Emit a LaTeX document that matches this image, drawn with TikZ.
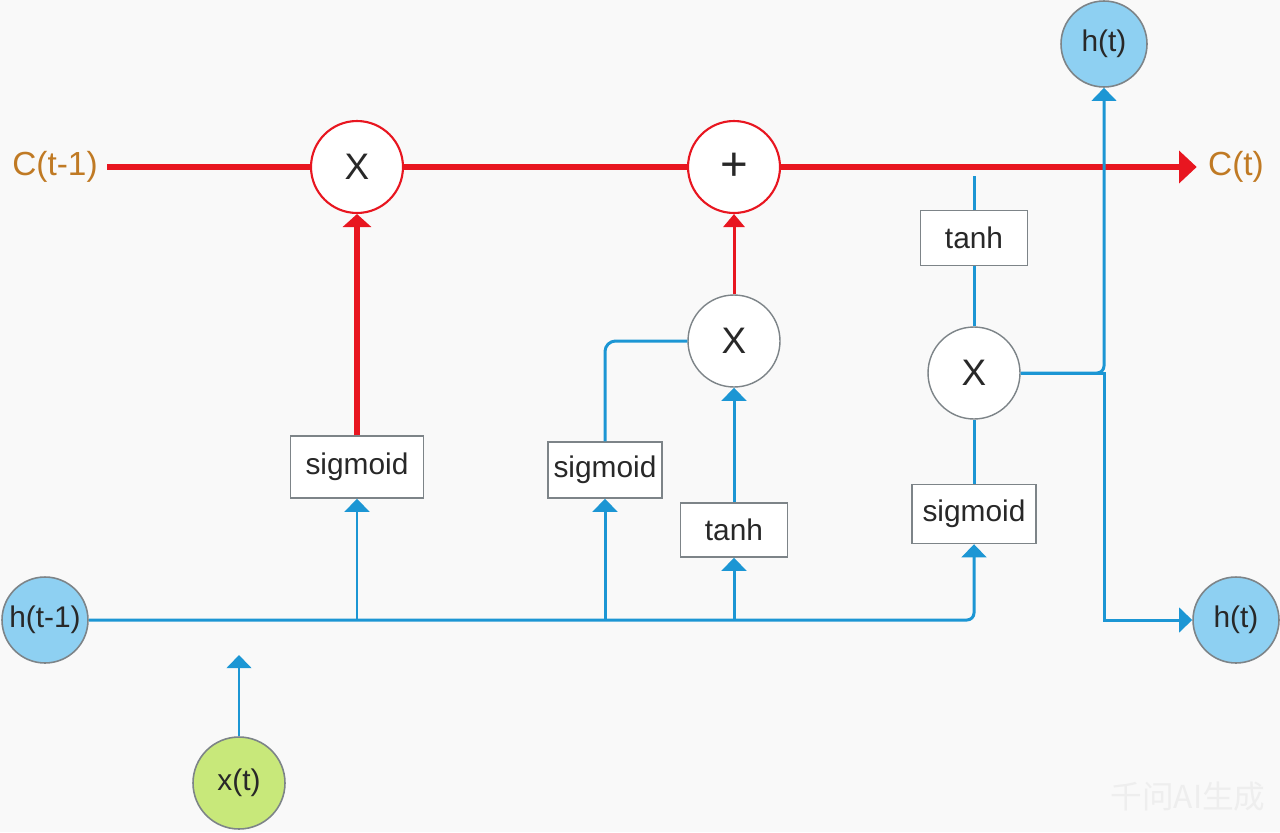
\documentclass[tikz,border=0pt]{standalone}
\usepackage{fontspec}
\setmainfont{Liberation Sans}
\newfontfamily\cjkfont{Noto Sans CJK SC}
\usepackage{tikz}
\usetikzlibrary{arrows.meta, calc, positioning}
\definecolor{cellred}{RGB}{232,22,32}
\definecolor{cellblue}{RGB}{28,150,212}
\definecolor{cellorange}{RGB}{192,122,36}
\definecolor{hfill}{RGB}{142,208,242}
\definecolor{xfill}{RGB}{200,232,122}
\definecolor{edgegray}{RGB}{125,132,136}
\definecolor{txtgray}{RGB}{40,40,40}
\definecolor{bggray}{RGB}{249,249,249}
\definecolor{markgray}{RGB}{238,238,238}
\tikzset{
	redline/.style={draw=cellred, line width=2.9pt},
	redarrow/.style={draw=cellred, line width=1.7pt, -{Triangle[width=12pt,length=7.4pt]}},
	redthick/.style={draw=cellred, line width=3.8pt, -{Triangle[width=16pt,length=7.4pt]}},
	blueline/.style={draw=cellblue, line width=1.7pt},
	bluearrow/.style={blueline, -{Triangle[width=14pt,length=7.5pt]}},
	gate/.style={draw=edgegray, line width=0.8pt, fill=white, inner sep=0pt, text=txtgray, font=\fontsize{17}{20}\selectfont},
	opred/.style={circle, draw=cellred, line width=1.2pt, fill=white, minimum size=1.84cm, inner sep=0pt, text=txtgray, font=\fontsize{21}{24}\selectfont},
	opgray/.style={opred, draw=edgegray, line width=0.8pt},
	hstate/.style={circle, draw=edgegray, line width=0.9pt, fill=hfill, minimum size=1.72cm, inner sep=0pt, text=txtgray, font=\fontsize{17}{20}\selectfont},
	celllabel/.style={text=cellorange, font=\fontsize{19}{22}\selectfont}
}
\begin{document}
\begin{tikzpicture}[x=0.02cm, y=-0.02cm]
	\fill[bggray] (0,0) rectangle (1280,832);
	\useasboundingbox (0,0) rectangle (1280,832);
	\node[celllabel] (cprev) at (55,167) {C(t-1)};
	\node[celllabel] (cnext) at (1236,167) {C(t)};
	\node[opred] (mul1) at (357,167) {X};
	\node[opred, font=\fontsize{27}{30}\selectfont] (add1) at (734,167) {+};
	\node[opgray] (mul2) at (734,341) {X};
	\node[opgray] (mul3) at (974,373) {X};
	\node[gate, minimum width=2.66cm, minimum height=1.24cm] (sig1) at (357,467) {sigmoid};
	\node[gate, minimum width=2.28cm, minimum height=1.12cm] (sig2) at (605,470) {sigmoid};
	\node[gate, minimum width=2.14cm, minimum height=1.08cm] (tanh2) at (734,530) {tanh};
	\node[gate, minimum width=2.14cm, minimum height=1.1cm] (tanh3) at (974,238) {tanh};
	\node[gate, minimum width=2.48cm, minimum height=1.18cm] (sig3) at (974,514) {sigmoid};
	\node[hstate] (hprev) at (45,620) {h(t-1)};
	\node[hstate] (htop) at (1104,44) {h(t)};
	\node[hstate] (hright) at (1236,620) {h(t)};
	\node[hstate, fill=xfill, minimum size=1.84cm] (xt) at (239,783) {x(t)};
	\node[text=markgray, font=\cjkfont\fontsize{18}{20}\selectfont] (mark) at (1188,797) {千问AI生成};
	\coordinate (tanhin) at (974,176);
	\coordinate (xin) at (239,655);
	\draw[redline, shorten <=2pt] (cprev) -- (mul1);
	\draw[redline] (mul1) -- (add1);
	\draw[redline, -{Triangle[width=18pt,length=10pt]}, shorten >=3pt] (add1) -- (cnext);
	\draw[redthick] (sig1) -- (mul1);
	\draw[redarrow] (mul2) -- (add1);
	\draw[bluearrow, rounded corners=4pt] (hprev) -| (sig3);
	\draw[bluearrow] (sig1.south |- hprev) -- (sig1);
	\draw[bluearrow] (sig2.south |- hprev) -- (sig2);
	\draw[bluearrow] (tanh2.south |- hprev) -- (tanh2);
	\draw[blueline, rounded corners=6pt] (sig2) |- (mul2);
	\draw[bluearrow] (tanh2) -- (mul2);
	\draw[blueline] (tanhin) -- (tanh3);
	\draw[blueline] (tanh3) -- (mul3);
	\draw[blueline] (sig3) -- (mul3);
	\draw[bluearrow, rounded corners=4pt] (mul3) -| (htop);
	\draw[bluearrow] (mul3) -| (htop.south |- hright) -- (hright);
	\draw[bluearrow] (xt) -- (xin);
\end{tikzpicture}
\end{document}
